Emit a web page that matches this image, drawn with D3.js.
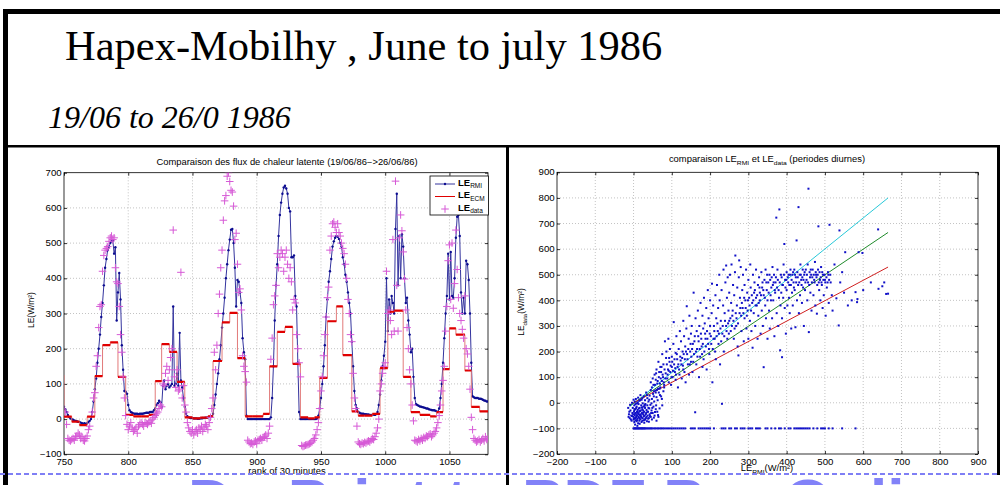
<!DOCTYPE html>
<html>
<head>
<meta charset="utf-8">
<script src="https://cdn.jsdelivr.net/npm/d3@7"></script>
<style>
  body { margin: 0; background: #fff; }
  svg { display: block; font-family: "Liberation Sans", Arial, sans-serif; }
  .grid line { stroke: #b4b4b4; stroke-width: 0.8; stroke-dasharray: 1,2; }
  .axis path { display: none; }
  .axis line { stroke: #000; stroke-width: 0.8; }
  .axis text { fill: #000; font-size: 8.4px; }
</style>
</head>
<body>
<script>
// ---------- slide texts ----------
var titleText = "Hapex-Mobilhy , June to july 1986";
var subtitleText = "19/06 to 26/0 1986";
var watermarkText = "Do Print to PDF Pro Online";

// ---------- left chart : time series ----------
var leftXTicks = [750, 800, 850, 900, 950, 1000, 1050];
var leftYTicks = [-100, 0, 100, 200, 300, 400, 500, 600, 700];

// LE RMI, one value per rank starting at rank 750
var rmiStart = 750;
var rmiLE = [
  35, 28, 20, 12, 6, 2, 0, -2, -4, -5,
  -6, -8, -8, -10, -12, -13, -12, -14, -12, -8,
  -5, 0, 20, 50, 85, 115, 160, 200, 240, 290,
  330, 380, 430, 455, 480, 490, 500, 505, 508, 470,
  488, 280, 360, 415, 340, 210, 140, 80, 78, 72,
  40, 25, 20, 18, 16, 15, 15, 15, 14, 15,
  15, 15, 16, 17, 18, 18, 18, 20, 20, 20,
  25, 30, 40, 45, 52, 48, 35, 95, 110, 85,
  95, 100, 90, 95, 100, 320, 95, 100, 130, 95,
  245, 110, 90, 60, 35, 15, 8, 5, 4, 3,
  3, 2, 2, 2, 1, 1, 2, 2, 3, 3,
  4, 4, 5, 6, 6, 8, 15, 40, 70, 100,
  130, 170, 210, 260, 300, 345, 400, 440, 480, 510,
  538, 540, 500, 430, 320, 395, 390, 360, 330, 230,
  190, 170, 10, 0, 0, 0, 0, 0, 0, 0,
  0, 0, 0, 0, 0, 0, 0, 0, 0, 0,
  0, 5, 60, 150, 280, 380, 440, 520, 580, 615,
  640, 658, 663, 655, 640, 600, 590, 460, 460, 465,
  350, 320, 160, 20, 0, 0, 0, 0, 0, 0,
  0, 0, 0, 0, 0, 0, 0, 2, 10, 30,
  60, 100, 150, 210, 290, 340, 390, 420, 455, 490,
  505, 515, 520, 518, 512, 500, 490, 460, 440, 410,
  390, 360, 330, 300, 220, 150, 80, 40, 30, 20,
  18, 16, 15, 15, 14, 14, 13, 13, 12, 12,
  12, 13, 12, 14, 20, 40, 70, 110, 150, 180,
  220, 400, 250, 340, 300, 350, 330, 300, 540, 640,
  380, 520, 400, 525, 490, 400, 330, 345, 280, 240,
  190, 200, 120, 60, 42, 40, 38, 36, 35, 34,
  33, 32, 30, 30, 28, 27, 26, 25, 25, 24,
  22, 20, 30, 60, 100, 160, 230, 300, 350, 470,
  340, 475, 350, 345, 400, 515, 575, 580, 520, 360,
  300, 345, 300, 450, 440, 395, 300, 160, 65, 62,
  60, 60, 60, 58, 58, 57, 55, 53, 52, 50, 50
];

// LE ECM, steps: start rank of each step and its value
var ecmRank = [744, 750, 756, 762, 768, 774, 780, 786, 792, 798,
  804, 810, 816, 821, 826, 832, 838, 844, 850, 856,
  862, 866, 873, 879, 885, 891, 897, 905, 910, 916,
  922, 928, 934, 940, 945, 949, 955, 962, 967, 974,
  979, 984, 990, 996, 1002, 1007, 1014, 1020, 1027, 1035,
  1040, 1045, 1050, 1055, 1062, 1067, 1073.5];
var ecmLE = [125, 7, -7, -17, 7, 122, 210, 218, 120, 12,
  8, 8, 12, 108, 213, 191, 106, 5, 2, 4,
  8, 165, 275, 302, 173, 8, 8, 15, 150, 248,
  262, 157, 5, 2, 5, 117, 278, 320, 182, 22,
  10, 10, 15, 145, 305, 308, 120, 20, 12, 8,
  20, 142, 258, 240, 138, 35, 22];
var ecmEnd = 1081;

// LE data, one value per rank starting at rank 751 (null = no measure)
var dataStart = 751;
var dataLE = [
  20, -15, -55, -60, -62, -58, -55, -60, -50, -48,
  -40, -45, -55, -50, -60, -62, -55, -48, -30, -20,
  null, 20, 60, 75, 150, 180, 260, 320, 325, 420,
  465, 480, 485, 490, 505, 515, 520, 510, 515, 430,
  390, 385, 320, 240, 190, 120, 60, 10, -15, -30,
  -20, -10, -25, -35, -30, -25, -40, -20, -15, -10,
  -15, -20, -10, -12, -15, -10, -5, -12, 0, 5,
  10, 15, 20, 30, 40, 35, 100, 95, 130, 150,
  110, 140, 175, 200, 537, 120, 90, 140, 80, 85,
  417, 60, 95, 40, 20, -10, -25, -35, -40, -30,
  -45, -35, -30, -40, -25, -30, -20, -35, -25, -15,
  -20, -30, -10, 5, 30, 60, 190, 140, 210, 300,
  355, 430, 480, 565, 620, 635, 690, 700, 675, 650,
  645, 605, 510, 528, 440, 360, 370, 310, 180, 150,
  135, 105, -60, -65, -70, -68, -72, -65, -62, -70,
  -60, -58, -55, -60, -52, -50, -45, -55, -40, -20,
  170, 230, 325, 350, 380, 470, 430, 460, 480, 470,
  420, 460, 480, 440, 400, 430, 390, 310, 340, 330,
  240, 200, 160, 120, -75, -78, -76, -74, -73, -72,
  -70, -68, -65, -60, -55, -45, -30, -10, 30, 80,
  120, 180, 240, 290, 345, 375, 480, 520, 555, 560,
  545, 530, 555, 530, 520, 500, 485, 470, 440, 400,
  340, 300, 240, 220, 130, 60, 30, -20, -65, -70,
  -72, -68, -70, -66, -68, -64, -62, -65, -60, -55,
  -58, -50, -40, -25, 0, 80, 100, 130, 150, 160,
  420, 300, 310, 280, 240, 510, 250, 676, 380, 250,
  515, 580, 535, 475, 398, 310, 260, 200, 140, 100,
  40, -5, -60, -62, -65, -58, -62, -55, -60, -52,
  -55, -48, -50, -45, -42, -50, -45, -40, -35, -25,
  -10, 10, 40, 80, 110, 150, 250, 320, 450, 495,
  340, 500, 315, 385, 537, 425, 345, 300, 280, 255,
  230, 350, 200, 185, 150, 85, 5, -30, -55, -60,
  -65, -62, -58, -65, -60, -55, -62, -50, -58, -55
];

var legendNames = ["RMI", "ECM", "data"];

// ---------- right chart : scatter ----------
var rightTicks = [-200, -100, 0, 100, 200, 300, 400, 500, 600, 700, 800, 900];

var scatterPts = [
  // cluster near the origin (night time)
  [-12,-45],[-10,-60],[-8,-30],[-6,-50],[-5,-70],[-3,-40],[-2,-20],[0,-55],[0,-65],[1,-35],
  [2,-75],[2,-10],[3,-48],[4,-60],[5,-25],[5,-68],[6,-40],[7,-55],[8,-15],[8,-72],
  [9,-35],[10,-50],[10,-62],[11,-28],[12,-80],[12,-42],[13,-5],[14,-58],[15,-35],[15,-70],
  [16,-20],[17,-48],[18,-65],[19,-30],[20,-10],[20,-55],[21,-75],[22,-40],[23,-25],[24,-60],
  [25,-45],[26,-15],[27,-68],[28,-35],[29,-50],[30,-20],[31,-5],[32,-60],[33,-40],[34,-28],
  [35,-72],[36,-10],[37,-50],[38,-35],[40,-60],[41,-22],[42,-45],[44,-8],[45,-55],[47,-30],
  [48,-65],[50,-40],[52,-15],[55,-50],[58,-25],[60,-70],[62,-35],[65,-55],[3,5],[6,15],
  [9,-2],[12,20],[15,8],[18,30],[21,12],[24,-2],[27,25],[30,10],[33,40],[36,18],
  [39,5],[42,28],[45,50],[48,15],[51,35],[54,5],[57,48],[60,22],[63,10],[66,40],
  [70,60],[72,25],[75,-10],[78,45],[80,70],[-14,-20],[-9,-8],[-4,0],[0,12],[4,-85],
  [16,-82],[28,-78],[40,-74],[10,-90],[7,-20],[14,-45],[19,-52],[26,-38],[31,-62],[2,-30],
  [-13,-55],[-11,-35],[-7,-65],[-4,-52],[-1,-45],[1,-62],[3,-25],[4,-42],[6,-58],[8,-48],
  [9,-68],[11,-38],[13,-55],[14,-22],[16,-62],[17,-32],[19,-45],[21,-58],[22,-18],[23,-70],
  [25,-30],[27,-52],[29,-12],[30,-66],[32,-45],[34,-55],[36,-35],[38,-62],[39,-20],[43,-52],
  [46,-40],[49,-20],[53,-58],[56,-36],[59,-10],[64,-48],[68,-22],[5,-5],[11,2],[17,10],
  [23,18],[29,-8],[35,30],[41,12],[47,-2],[53,25],[58,40],[64,55],[69,30],[74,15],
  // day time cloud
  [52,70],[55,110],[58,90],[60,130],[62,75],[65,160],[66,100],[68,55],[70,140],[72,120],
  [74,85],[75,190],[77,100],[78,150],[80,60],[82,240],[84,115],[85,175],[86,200],[88,95],
  [90,130],[91,250],[92,80],[94,160],[95,210],[96,120],[98,70],[100,180],[100,140],
  [102,100],[104,230],[105,315],[106,150],[108,120],[110,195],[110,90],[112,260],[114,170],[115,140],
  [116,60],[118,210],[120,110],[121,280],[122,180],[124,240],[125,150],[126,95],[128,200],[130,320],
  [130,130],[132,260],[134,170],[135,220],[136,80],[138,290],[139,377],[140,190],[142,150],[144,250],
  [145,110],[146,340],[148,200],[150,270],[150,160],
  [152,300],[154,120],[155,230],[157,430],[158,190],[160,260],[161,-37],[162,330],[164,150],[165,280],
  [166,210],[168,360],[170,240],[171,100],[172,300],[174,180],[175,390],[176,270],[178,220],[180,340],
  [180,140],[182,290],[184,410],[185,200],[186,310],[188,250],[190,370],[191,130],[192,280],[194,440],
  [195,230],[196,330],[198,190],[200,300],[200,400],
  [202,260],[204,350],[205,465],[206,80],[207,210],[208,380],[210,300],[212,250],[214,420],[215,170],
  [216,330],[218,460],[220,280],[221,370],[222,230],[224,500],[225,400],[226,150],[228,320],[230,440],
  [231,-4],[232,270],[234,380],[235,520],[236,200],[238,350],[240,470],[242,536],[242,300],[244,410],
  [245,250],[246,490],[248,360],[250,430],[250,320],
  [252,500],[254,280],[255,390],[256,540],[258,340],[260,460],[262,250],[263,420],[265,510],[266,575],
  [268,300],[270,380],[271,450],[272,220],[274,185],[275,490],[276,556],[277,350],[278,410],[280,530],
  [282,280],[284,440],[285,370],[286,500],[288,240],[290,460],[290,330],[292,400],[294,520],[295,290],
  [297,430],[298,360],[300,480],[300,250],
  [302,410],[304,320],[305,540],[306,450],[308,280],[310,390],[311,215],[312,500],[314,350],[315,430],
  [316,470],[318,300],[320,410],[320,520],[322,380],[324,250],[325,460],[326,340],[328,490],[330,400],
  [330,430],[332,270],[334,510],[335,360],[336,450],[338,300],[340,139],[340,420],[342,480],[344,380],
  [345,520],[346,330],[348,440],[350,400],[350,250],
  [352,470],[354,360],[355,500],[356,290],[358,420],[360,450],[362,330],[363,530],[365,400],[366,470],
  [368,260],[370,430],[372,490],[373,723],[374,350],[375,450],[376,520],[378,300],[380,410],[381,755],
  [382,470],[383,205],[384,380],[385,500],[386,430],[388,178],[388,330],[390,460],[391,410],[392,540],
  [394,620],[395,370],[396,480],[398,270],[400,440],[400,510],
  [402,380],[404,470],[405,500],[406,410],[408,350],[410,520],[411,460],[412,290],[414,430],[415,500],
  [416,380],[418,470],[420,520],[421,440],[423,295],[424,490],[426,634],[427,400],[428,510],[430,460],
  [431,764],[432,350],[434,500],[435,420],[436,540],[438,480],[440,390],[442,520],[443,450],[445,300],
  [446,500],[448,440],[450,520],
  [452,480],[454,400],[455,540],[457,836],[458,276],[459,460],[460,510],[462,430],[464,500],[465,360],
  [466,470],[468,520],[470,420],[472,480],[474,550],[475,380],[477,500],[479,348],[480,460],[482,520],
  [483,689],[485,440],[487,480],[488,400],[490,530],[492,460],[494,370],[495,500],[497,420],[500,480],
  [502,340],[505,450],[508,510],[510,390],[512,695],[515,470],[518,420],[520,360],[525,540],[530,408],
  [536,302],[538,673],[540,470],[545,510],[550,430],[553,588],[560,380],[570,400],
  [580,432],[584,393],[585,405],[588,588],[598,585],[600,440],[620,470],[639,677],[640,445],[650,455],
  [655,470],[660,425],[665,426],
  // denser band along the fitted lines
  [45,80],[48,60],[50,95],[53,45],[56,70],[59,115],[61,50],[63,85],[67,120],[69,75],
  [71,95],[73,140],[76,110],[79,80],[81,130],[83,95],[87,150],[89,110],[92,125],[93,175],
  [97,145],[99,100],[101,160],[103,125],[107,170],[109,135],[111,110],[113,190],[117,150],[119,130],
  [123,165],[127,175],[129,145],[131,190],[133,120],[137,200],[141,170],[143,210],[147,150],[149,230],
  [151,180],[153,210],[156,160],[159,240],[163,200],[167,180],[169,260],[173,210],[177,250],[179,190],
  [181,230],[183,170],[187,270],[189,220],[193,250],[197,210],[199,270],[203,230],[209,250],[211,280],
  [213,200],[217,260],[219,310],[223,270],[227,290],[229,240],[233,300],[237,260],[239,320],[243,280],
  [247,310],[249,270],[253,330],[257,300],[259,360],[261,320],[264,290],[267,350],[269,330],[273,310],
  [279,370],[281,340],[283,390],[287,350],[289,410],[293,370],[296,340],[299,400],[303,380],[307,360],
  [309,420],[313,400],[317,440],[319,380],[323,420],[327,390],[329,450],[333,420],[337,470],[339,440],
  [343,410],[347,470],[349,500],[353,430],[357,480],[359,400],[361,490],[364,460],[367,500],[369,440],
  [371,470],[377,480],[379,440],[387,490],[389,460],[393,500],[397,450],[399,480],[403,490],[407,460],
  [409,500],[413,480],[417,510],[419,450],[422,500],[425,470],[429,490],[433,470],[437,500],[439,460],
  [441,490],[444,480],[447,510],[449,470],[453,500],[456,470],[461,490],[463,520],[467,490],[471,500],
  [473,470],[476,510],[478,490],[481,500],[484,470],[486,510],[489,490],[491,470],[493,510],[496,480],
  [499,500],[501,470],[504,490],[507,470],[509,500],[511,480],[514,500]
];

// points sitting on the -100 line (missing data)
var rowY = -100;
var rowX = [0, 2, 4, 6, 8, 10, 12, 14, 16, 18, 20, 22, 24, 26, 28, 30, 33, 36, 39, 42,
  45, 48, 52, 56, 60, 64, 68, 72, 76, 80, 85, 90, 95, 100, 105, 110, 115, 120, 125, 130,
  135, 150, 155, 160, 170, 175, 180, 185, 190, 195, 200, 210, 230, 235, 240, 250, 255, 265, 270, 280,
  285, 290, 300, 305, 310, 320, 325, 330, 345, 350, 360, 370, 380, 385, 395, 405, 410, 420, 425, 430,
  435, 440, 445, 450, 455, 460, 470, 480, 490, 495, 500, 510, 520, 545, 580];

// fitted lines: [x0, x1], [y0, y1]
var fitColors = ["#28c8d8", "#1f8a2a", "#d02020"];
var fitX = [[-10, 665], [-10, 665], [0, 665]];
var fitY = [[-15, 800], [-12, 665], [0, 530]];

// ---------- drawing ----------
var w = 1000, h = 485;
var svg = d3.select("body").append("svg").attr("width", w).attr("height", h);
svg.append("rect").attr("width", w).attr("height", h).attr("fill", "#fff");

function stretched(parent, x, y, size, anchor, sx, rot) {
  var tr = "translate(" + x + "," + y + ")" + (rot ? " rotate(" + rot + ")" : "") + " scale(" + sx + ",1)";
  return parent.append("text")
    .attr("transform", tr)
    .attr("text-anchor", anchor)
    .style("font-size", size + "px");
}

// parts: [text, 0 normal | 1 subscript]
function rich(t, parts, subSize) {
  var shift = 0;
  parts.forEach(function(p) {
    var target = p[1] === 1 ? 2.5 : 0;
    var ts = t.append("tspan").attr("dy", target - shift).text(p[0]);
    if (p[1] === 1) ts.style("font-size", subSize + "px").style("font-weight", "normal");
    shift = target;
  });
}

var fmt = d3.format("d");

function panel(xs, ys, xTicks, yTicks) {
  var g = svg.append("g");
  var x0 = xs.range()[0], x1 = xs.range()[1], y0 = ys.range()[0], y1 = ys.range()[1];

  g.append("g").attr("class", "grid").selectAll("line")
    .data(xTicks.filter(function(d) { return xs(d) > x0 + 1 && xs(d) < x1 - 1; }))
    .enter().append("line")
    .attr("x1", function(d) { return xs(d); }).attr("x2", function(d) { return xs(d); })
    .attr("y1", y0).attr("y2", y1);
  g.append("g").attr("class", "grid").selectAll("line")
    .data(yTicks.filter(function(d) { return ys(d) < y0 - 1 && ys(d) > y1 + 1; }))
    .enter().append("line")
    .attr("y1", function(d) { return ys(d); }).attr("y2", function(d) { return ys(d); })
    .attr("x1", x0).attr("x2", x1);

  var xAxis = g.append("g").attr("class", "axis")
    .attr("transform", "translate(0," + y0 + ")")
    .call(d3.axisBottom(xs).tickValues(xTicks).tickFormat(fmt).tickSizeInner(-3).tickSizeOuter(0).tickPadding(5));
  xAxis.selectAll("text").attr("transform", "scale(1.15,1)");
  var yAxis = g.append("g").attr("class", "axis")
    .attr("transform", "translate(" + x0 + ",0)")
    .call(d3.axisLeft(ys).tickValues(yTicks).tickFormat(fmt).tickSizeInner(-3).tickSizeOuter(0).tickPadding(2));
  yAxis.selectAll("text").attr("transform", "scale(1.15,1)");
  g.append("g").attr("class", "axis")
    .attr("transform", "translate(0," + y1 + ")")
    .call(d3.axisTop(xs).tickValues(xTicks).tickSizeInner(-3).tickSizeOuter(0).tickFormat(""));
  g.append("g").attr("class", "axis")
    .attr("transform", "translate(" + x1 + ",0)")
    .call(d3.axisRight(ys).tickValues(yTicks).tickSizeInner(-3).tickSizeOuter(0).tickFormat(""));

  g.append("rect").attr("x", x0).attr("y", y1).attr("width", x1 - x0).attr("height", y0 - y1)
    .attr("fill", "none").attr("stroke", "#000").attr("stroke-width", 0.8);
  return g;
}

// slide frame
var frame = svg.append("g").attr("fill", "#000");
frame.append("rect").attr("x", 3).attr("y", 9).attr("width", 997).attr("height", 5);
frame.append("rect").attr("x", 3).attr("y", 9).attr("width", 5).attr("height", 476);
frame.append("rect").attr("x", 3).attr("y", 145).attr("width", 997).attr("height", 2.5);
frame.append("rect").attr("x", 506).attr("y", 145).attr("width", 3).attr("height", 340);
frame.append("rect").attr("x", 997).attr("y", 145).attr("width", 3).attr("height", 330);

svg.append("text").attr("x", 65).attr("y", 60)
  .style("font-family", "'Liberation Serif','Times New Roman',serif")
  .style("font-size", "42.5px").text(titleText);
svg.append("text").attr("x", 48).attr("y", 128)
  .style("font-family", "'Liberation Serif','Times New Roman',serif")
  .style("font-style", "italic").style("font-size", "32px").text(subtitleText);

// ---- left chart ----
var lx = d3.scaleLinear().domain([750, 1080]).range([64, 488]);
var ly = d3.scaleLinear().domain([-100, 700]).range([454.3, 172.7]);
panel(lx, ly, leftXTicks, leftYTicks);

svg.append("clipPath").attr("id", "clipL").append("rect")
  .attr("x", 64).attr("y", 172.7).attr("width", 424).attr("height", 281.6);
var plotL = svg.append("g").attr("clip-path", "url(#clipL)");

var rmi = rmiLE.map(function(v, i) { return { r: rmiStart + i, v: v }; });
plotL.append("path").datum(rmi)
  .attr("fill", "none").attr("stroke", "#34349e").attr("stroke-width", 1)
  .attr("d", d3.line().x(function(d) { return lx(d.r); }).y(function(d) { return ly(d.v); }));
plotL.append("g").selectAll("circle").data(rmi).enter().append("circle")
  .attr("cx", function(d) { return lx(d.r); }).attr("cy", function(d) { return ly(d.v); })
  .attr("r", 1.2).attr("fill", "#0c0c90");

var ecm = ecmRank.map(function(r, i) { return { r: r, v: ecmLE[i], e: i < ecmRank.length - 1 ? ecmRank[i + 1] : ecmEnd }; });
plotL.append("path").datum(ecm.concat([{ r: ecmEnd, v: ecmLE[ecmLE.length - 1] }]))
  .attr("fill", "none").attr("stroke", "#e27a7a").attr("stroke-width", 1)
  .attr("d", d3.line().curve(d3.curveStepAfter).x(function(d) { return lx(d.r); }).y(function(d) { return ly(d.v); }));
plotL.append("g").selectAll("line").data(ecm).enter().append("line")
  .attr("x1", function(d) { return lx(d.r); }).attr("x2", function(d) { return lx(d.e); })
  .attr("y1", function(d) { return ly(d.v); }).attr("y2", function(d) { return ly(d.v); })
  .attr("stroke", "#e00000").attr("stroke-width", 2.2);

var plus = "M-3.8,0H3.8M0,-3.8V3.8";
var meas = dataLE.map(function(v, i) { return { r: dataStart + i, v: v }; })
  .filter(function(d) { return d.v !== null; });
plotL.append("g").selectAll("path").data(meas).enter().append("path")
  .attr("transform", function(d) { return "translate(" + lx(d.r) + "," + ly(d.v) + ")"; })
  .attr("d", plus).attr("stroke", "#d659d6").attr("stroke-width", 1).attr("fill", "none");

// legend
var leg = svg.append("g");
leg.append("rect").attr("x", 430).attr("y", 176).attr("width", 58.5).attr("height", 39)
  .attr("fill", "#fff").attr("stroke", "#000").attr("stroke-width", 0.8);
var legY = [184, 196.5, 209];
leg.append("line").attr("x1", 435).attr("x2", 455).attr("y1", legY[0]).attr("y2", legY[0]).attr("stroke", "#34349e");
leg.append("circle").attr("cx", 445).attr("cy", legY[0]).attr("r", 1.2).attr("fill", "#0c0c90");
leg.append("line").attr("x1", 435).attr("x2", 455).attr("y1", legY[1]).attr("y2", legY[1]).attr("stroke", "#e00000");
leg.append("path").attr("transform", "translate(445," + legY[2] + ")").attr("d", plus)
  .attr("stroke", "#d659d6").attr("fill", "none");
legendNames.forEach(function(n, i) {
  var t = leg.append("text").attr("x", 458).attr("y", legY[i] + 1.5)
    .style("font-size", "9.5px").style("font-weight", "bold");
  rich(t, [["LE", 0], [n, 1]], 6.5);
});

// left titles
stretched(svg, 287, 165, 8.4, "middle", 1.12)
  .text("Comparaison des flux de chaleur latente (19/06/86\u2212>26/06/86)");
stretched(svg, 287, 474, 8.4, "middle", 1.12).text("rank of 30 minutes");
stretched(svg, 34, 310, 8.4, "middle", 1, -90).text("LE(W/m\u00b2)");

// ---- right chart ----
var rx = d3.scaleLinear().domain([-200, 900]).range([557, 978]);
var ry = d3.scaleLinear().domain([-200, 900]).range([454, 172.3]);
panel(rx, ry, rightTicks, rightTicks);

var plotR = svg.append("g");
fitColors.forEach(function(c, i) {
  plotR.append("line")
    .attr("x1", rx(fitX[i][0])).attr("x2", rx(fitX[i][1]))
    .attr("y1", ry(fitY[i][0])).attr("y2", ry(fitY[i][1]))
    .attr("stroke", c).attr("stroke-width", 1);
});
var allPts = scatterPts.concat(rowX.map(function(x) { return [x, rowY]; }));
plotR.append("g").selectAll("rect").data(allPts).enter().append("rect")
  .attr("x", function(d) { return rx(d[0]) - 1; }).attr("y", function(d) { return ry(d[1]) - 1; })
  .attr("width", 2).attr("height", 2).attr("fill", "#1010c8");

var rt = stretched(svg, 767, 162, 8.4, "middle", 1.12);
rich(rt, [["comparaison LE", 0], ["RMI", 1], [" et LE", 0], ["data", 1], [" (periodes diurnes)", 0]], 6);
var rxl = stretched(svg, 767, 471, 8.4, "middle", 1.12);
rich(rxl, [["LE", 0], ["RMI", 1], ["(W/m\u00b2)", 0]], 6);
var ryl = stretched(svg, 524, 312, 8.4, "middle", 1, -90);
rich(ryl, [["LE", 0], ["data", 1], ["(W/m\u00b2)", 0]], 6);

// ---- watermark ----
svg.append("line").attr("x1", 0).attr("x2", w).attr("y1", 474).attr("y2", 474)
  .attr("stroke", "#7f7ff5").attr("stroke-width", 2.2).attr("stroke-dasharray", "5,3");
svg.append("text").attr("x", 188).attr("y", 522)
  .style("font-size", "62px").style("font-weight", "bold").attr("fill", "#8282f8")
  .text(watermarkText);
</script>
</body>
</html>
